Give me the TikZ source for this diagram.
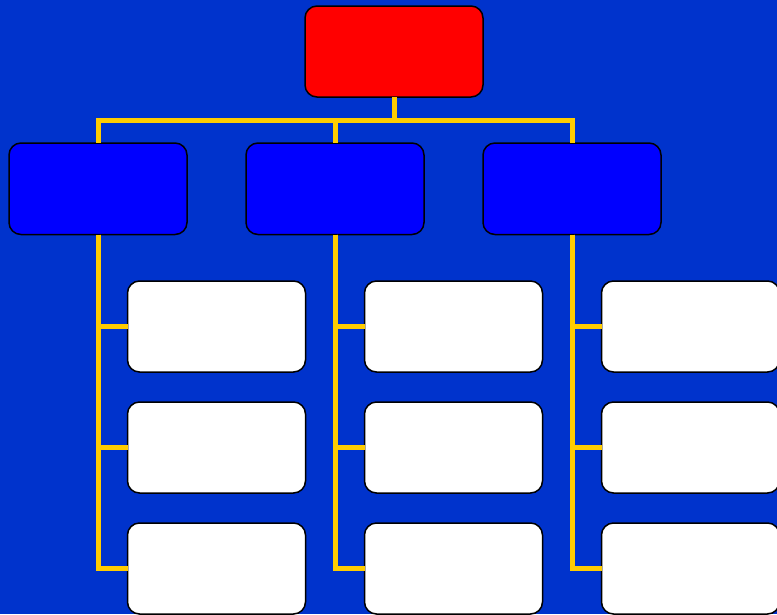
\documentclass[tikz,border=0pt]{standalone}
\usepackage{tikz}
\usetikzlibrary{positioning, calc}

\definecolor{fondo}{HTML}{0033CC}
\definecolor{lineaamarilla}{HTML}{FFCC00}

\begin{document}
\begin{tikzpicture}[
            x=1pt, y=1pt,
            node distance=46pt,
            % Estilos de las cajas
            raiz/.style={rectangle, rounded corners=12pt, minimum width=178pt, minimum height=91pt, outer sep=0pt, draw=black, line width=1.5pt, fill=red},
            rama/.style={rectangle, rounded corners=12pt, minimum width=178pt, minimum height=91.5pt, outer sep=0pt, draw=black, line width=1.5pt, fill=blue},
            hoja/.style={rectangle, rounded corners=12pt, minimum width=178pt, minimum height=91pt, outer sep=0pt, draw=black, line width=1.5pt, fill=white},
            enlace/.style={draw=lineaamarilla, line width=5pt}
        ]

            % Fondo
            \useasboundingbox (0,0) rectangle (777,-614);
            \clip (0,0) rectangle (777,-614);
            \fill[fondo] (0,0) rectangle (777,-614);

            % Nodos
            \node (raiz) [raiz] at (394,-51.5) {};

            \node (rama2) [rama, below=46pt of raiz, xshift=-59pt] {};
            \node (rama1) [rama, left=59pt of rama2] {};
            \node (rama3) [rama, right=59pt of rama2] {};

            \node (hoja11) [hoja, below=46.5pt of rama1, xshift=118.5pt] {};
            \node (hoja12) [hoja, below=30pt of hoja11] {};
            \node (hoja13) [hoja, below=30pt of hoja12] {};

            \node (hoja21) [hoja, below=46.5pt of rama2, xshift=118.5pt] {};
            \node (hoja22) [hoja, below=30pt of hoja21] {};
            \node (hoja23) [hoja, below=30pt of hoja22] {};

            \node (hoja31) [hoja, below=46.5pt of rama3, xshift=118.5pt] {};
            \node (hoja32) [hoja, below=30pt of hoja31] {};
            \node (hoja33) [hoja, below=30pt of hoja32] {};

            % Conexiones (lineas)
            \path (raiz.south) -- ++(0,-23pt) coordinate (nudo);
            \draw [enlace] (raiz.south) -- (nudo);
            \draw [enlace] (nudo) -| (rama1.north);
            \draw [enlace] (nudo) -| (rama2.north);
            \draw [enlace] (nudo) -| (rama3.north);

            \foreach \r in {1,2,3}{
                \foreach \h in {1,2,3}{
                    \draw [enlace] (rama\r.south) |- (hoja\r\h.west);
                }
            }

        \end{tikzpicture}
\end{document}
